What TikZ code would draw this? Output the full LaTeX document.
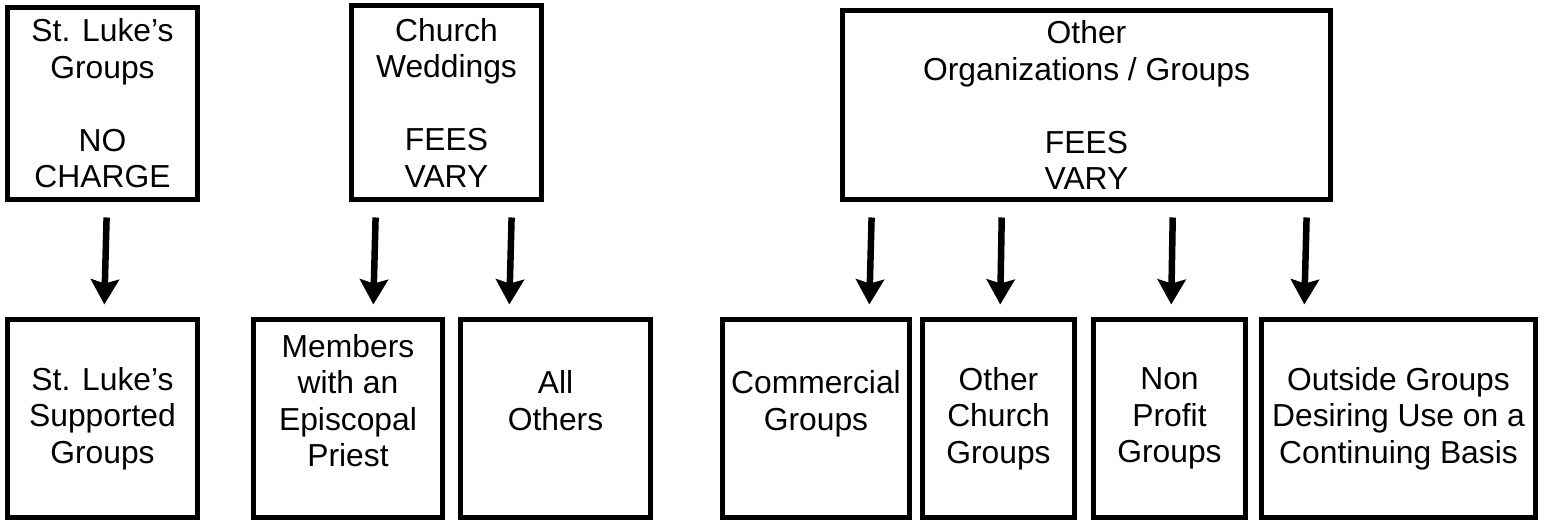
\documentclass[tikz,border=0pt]{standalone}
\usepackage{fontspec}
\setmainfont{Liberation Sans}
\usetikzlibrary{arrows.meta,positioning}

\begin{document}
\begin{tikzpicture}[x=1pt,y=-1pt,
  box/.style={draw, line width=5pt, align=center, inner sep=0pt, font=\fontsize{31.8}{36.5}\selectfont},
  flow/.style={-{Stealth[length=25pt,width=28pt,inset=4pt]}, line width=6.5pt, shorten <=15.5pt, shorten >=12.5pt}]
\useasboundingbox (0,0) rectangle (1548,521);

% Fee categories
\node[box, minimum width=190pt, minimum height=192pt] (stluke) at (102.5,103.5) {St. Luke’s\\Groups\\~\\NO\\CHARGE};
\node[box, minimum width=190pt, minimum height=194pt] (wedding) at (446.5,102.5) {Church\\Weddings\\~\\FEES\\VARY};
\node[box, minimum width=488pt, minimum height=189pt] (otherorg) at (1086.5,105) {Other\\Organizations / Groups\\~\\FEES\\VARY};

% User groups
\begin{scope}[every node/.style={box, minimum height=198pt}]
  \node[minimum width=190pt] (supported) at (102.5,418.5) {St. Luke’s\\Supported\\Groups};
  \node[minimum width=189pt] (members) at (348,418.5) {Members\\with an\\Episcopal\\Priest\\~};
  \node[minimum width=190pt] (allothers) at (555.5,418.5) {All\\Others\\~};
  \node[minimum width=187pt] (commercial) at (816,418.5) {Commercial\\Groups\\~};
  \node[minimum width=152pt] (otherchurch) at (998.5,418.5) {Other\\Church\\Groups};
  \node[minimum width=152pt] (nonprofit) at (1169.5,418.5) {Non\\Profit\\Groups};
  \node[minimum width=274pt] (outside) at (1398.5,418.5) {Outside Groups\\Desiring Use on a\\Continuing Basis};
\end{scope}

% Arrows
\draw[flow] ([xshift=4.5pt]stluke.south) -- ([xshift=1.5pt]supported.north);
\draw[flow] ([xshift=-70.5pt]wedding.south) -- ([xshift=25pt]members.north);
\draw[flow] ([xshift=65.5pt]wedding.south) -- ([xshift=-46.5pt]allothers.north);
\draw[flow] ([xshift=-214.5pt]otherorg.south) -- ([xshift=53pt]commercial.north);
\draw[flow] ([xshift=-84.5pt]otherorg.south) -- ([xshift=1.5pt]otherchurch.north);
\draw[flow] ([xshift=86.5pt]otherorg.south) -- ([xshift=1.5pt]nonprofit.north);
\draw[flow] ([xshift=220.5pt]otherorg.south) -- ([xshift=-94.5pt]outside.north);
\end{tikzpicture}
\end{document}
